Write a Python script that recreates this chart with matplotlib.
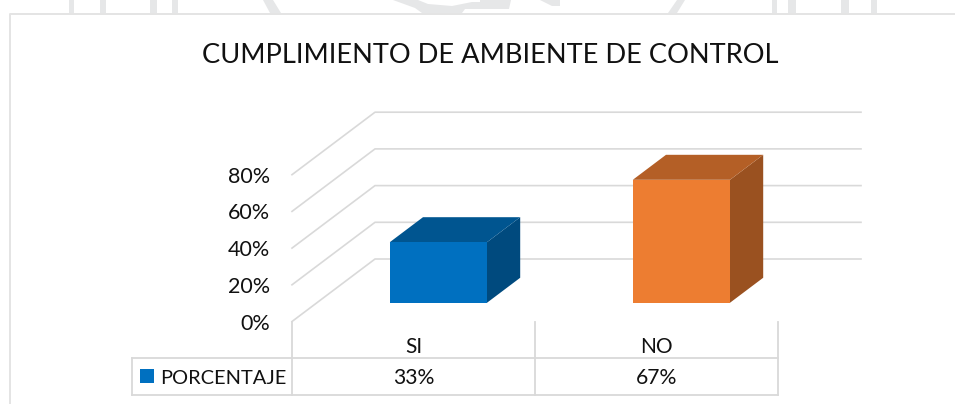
import matplotlib
matplotlib.use("Agg")
import matplotlib.pyplot as plt
from matplotlib.patches import Polygon, Rectangle

plt.rcParams['font.family'] = ['Lato', 'DejaVu Sans']

# Chart data
title = "CUMPLIMIENTO DE AMBIENTE DE CONTROL"
categories = ["SI", "NO"]
values = [33, 67]
value_labels = ["33%", "67%"]
series_name = "PORCENTAJE"
y_ticks = [0, 20, 40, 60, 80]
y_tick_labels = ["0%", "20%", "40%", "60%", "80%"]

W, H = 955, 404
GRID = "#d9d9d9"
FRONT = ["#0070c0", "#ed7d31"]
TOP = ["#005590", "#b45f26"]
SIDE = ["#004a7e", "#9a5120"]
TEXT = "#111111"

# x0 and width of the front plane in pixels, one unit per category
AX_L, AX_R, AX_B, AX_T = 292, 778, 321.5, 174.7
UNIT_X = (AX_R - AX_L) / len(categories)
UNIT_Y = (AX_B - AX_T) / y_ticks[-1]
# full depth of the floor, in data units
DEPTH_X = 83 / UNIT_X
DEPTH_Y = 62.5 / UNIT_Y


def proj(x, v, d):
    # oblique projection, d is 0 at the front and 1 at the back wall
    return x + d * DEPTH_X, v + d * DEPTH_Y


fig = plt.figure(figsize=(W / 100, H / 100), dpi=100)
bg = fig.add_axes([0, 0, 1, 1])
bg.set_xlim(0, W)
bg.set_ylim(H, 0)
bg.axis("off")

# faded page watermark and the chart frame, pixel coords
wm = "#e6e7e8"
for x0, x1 in [(69, 74), (100, 106), (150, 157), (172, 178), (772, 777), (788, 796), (841, 849), (871, 877)]:
    bg.add_patch(Rectangle((x0, 0), x1 - x0, 13, color=wm, lw=0))
watermark_shapes = [
    [(263, 0), (273, 0), (281, 13), (270, 13)],
    [(393, 0), (418, 0), (428, 4), (452, 6), (472, 2), (480, 2), (480, 9), (465, 9), (462, 13), (422, 13), (415, 8)],
    [(480, 0), (511, 0), (509, 9), (480, 9)],
    [(540, 0), (560, 0), (560, 6), (552, 6)],
    [(677, 0), (685, 0), (677, 13), (668, 13)],
]
for pts in watermark_shapes:
    bg.add_patch(Polygon(pts, color=wm, lw=0))
bg.plot([10, 10, W], [H, 14, 14], color="#e4e4e4", lw=1.4)

ax = fig.add_axes([AX_L / W, 1 - AX_B / H, (AX_R - AX_L) / W, (AX_B - AX_T) / H])
ax.set_xlim(0, len(categories))
ax.set_ylim(0, y_ticks[-1])
ax.axis("off")

# walls: gridlines run up the side wall then along the back wall
for v in y_ticks:
    bx, by = proj(0, v, 1)
    ex, ey = proj(len(categories), v, 1)
    ax.plot([0, bx, ex], [v, by, ey], color=GRID, lw=1.2, clip_on=False, zorder=1)

# bars
bar_w = 0.4
d0, d1 = 0.3, 0.7
for i, v in enumerate(values):
    xl = i + 0.5 - bar_w / 2
    xr = i + 0.5 + bar_w / 2
    front = [proj(xl, 0, d0), proj(xr, 0, d0), proj(xr, v, d0), proj(xl, v, d0)]
    top = [proj(xl, v, d0), proj(xr, v, d0), proj(xr, v, d1), proj(xl, v, d1)]
    side = [proj(xr, 0, d0), proj(xr, 0, d1), proj(xr, v, d1), proj(xr, v, d0)]
    ax.add_patch(Polygon(side, color=SIDE[i], lw=0, clip_on=False, zorder=3))
    ax.add_patch(Polygon(top, color=TOP[i], lw=0, clip_on=False, zorder=3))
    ax.add_patch(Polygon(front, color=FRONT[i], lw=0, clip_on=False, zorder=4))

# y labels
for v, lab in zip(y_ticks, y_tick_labels):
    ax.annotate(lab, (0, v), xytext=(270, AX_B - v * UNIT_Y + 2), textcoords=bg.transData,
                ha="right", va="center", fontsize=15.5, color=TEXT, annotation_clip=False)

# data table under the chart
ROW1, ROW2 = 357.7, 395.3
TBL_L = 132
for i in range(len(categories) + 1):
    x = AX_L + i * UNIT_X
    bg.plot([x, x], [AX_B, ROW2], color=GRID, lw=1.3)
bg.plot([TBL_L, AX_R], [ROW1, ROW1], color=GRID, lw=1.3)
bg.plot([TBL_L, AX_R], [ROW2, ROW2], color=GRID, lw=1.3)
bg.plot([TBL_L, TBL_L], [ROW1, ROW2], color=GRID, lw=1.3)

for i, (c, lab) in enumerate(zip(categories, value_labels)):
    x = AX_L + (i + 0.5) * UNIT_X
    bg.text(x, 347, c, ha="center", va="center", fontsize=15, color=TEXT)
    bg.text(x, 378, lab, ha="center", va="center", fontsize=15.2, color=TEXT)

bg.add_patch(Rectangle((140, 369.3), 14, 14, color=FRONT[0], lw=0))
bg.text(160, 378, series_name, ha="left", va="center", fontsize=14.4, color=TEXT)

bg.text(490, 55.5, title, ha="center", va="center", fontsize=19.6, color=TEXT)

fig.savefig("out.png", dpi=100)
